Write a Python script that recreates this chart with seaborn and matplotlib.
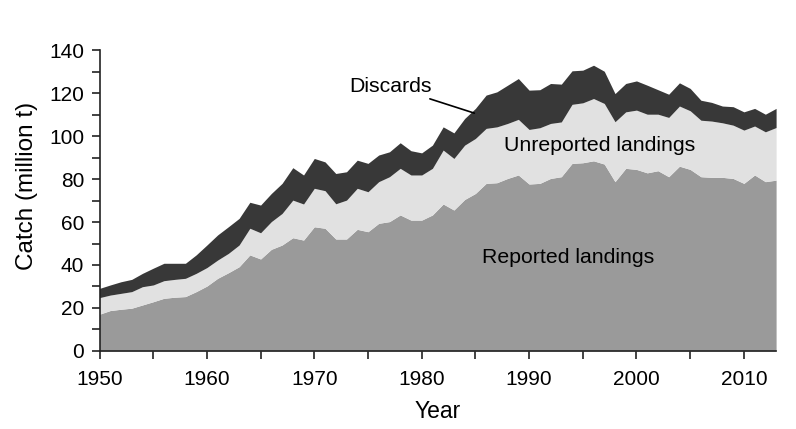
import numpy as np
import pandas as pd
import matplotlib
matplotlib.use("Agg")
import matplotlib.pyplot as plt
import seaborn as sns

years = list(range(1950, 2014))

reported = [17.1, 18.8, 19.4, 19.9, 21.4, 22.9, 24.5, 25.0, 25.3, 27.6,
            30.2, 33.8, 36.4, 39.2, 44.7, 42.8, 47.3, 49.3, 52.7, 51.6,
            57.8, 57.1, 52.1, 52.1, 56.6, 55.5, 59.4, 60.2, 63.3, 60.9,
            60.9, 63.3, 68.4, 65.6, 70.5, 73.3, 78.0, 78.3, 80.3, 81.9,
            77.7, 78.0, 80.3, 81.1, 87.3, 87.6, 88.5, 87.0, 78.8, 85.0,
            84.5, 82.9, 83.9, 81.1, 86.0, 84.5, 81.1, 80.8, 80.8, 80.3,
            78.0, 81.9, 78.8, 79.5]

unreported = [7.7, 7.2, 7.4, 7.7, 8.5, 7.8, 8.2, 8.3, 8.5, 8.5,
              8.6, 8.5, 9.0, 10.1, 12.4, 12.2, 12.9, 14.7, 17.5, 16.8,
              17.9, 17.5, 16.4, 18.1, 19.1, 18.6, 19.4, 20.9, 21.7, 21.0,
              21.0, 21.7, 25.1, 24.0, 25.3, 25.6, 25.6, 26.0, 25.6, 25.9,
              25.4, 25.9, 25.6, 25.5, 27.5, 27.9, 29.0, 28.2, 27.9, 26.3,
              27.6, 27.3, 26.3, 27.6, 28.0, 27.3, 26.3, 26.2, 25.4, 24.8,
              24.8, 22.8, 23.2, 24.5]

discards = [4.3, 4.7, 5.4, 5.7, 6.2, 7.8, 8.1, 7.5, 7.0, 8.6,
            10.5, 11.7, 12.4, 12.4, 12.1, 12.9, 13.1, 14.0, 15.1, 13.5,
            13.9, 13.4, 14.1, 13.2, 13.1, 13.2, 12.4, 11.6, 11.9, 11.3,
            10.3, 10.8, 10.8, 11.9, 12.4, 14.0, 15.5, 16.3, 17.8, 19.0,
            18.3, 17.7, 18.6, 17.6, 15.6, 15.2, 15.5, 15.0, 13.1, 13.2,
            13.6, 13.5, 11.4, 10.8, 10.8, 10.4, 9.3, 8.7, 7.8, 8.6,
            8.5, 8.2, 8.2, 8.9]

df = pd.DataFrame({"year": years, "reported": reported,
                   "unreported": unreported, "discards": discards})

sns.set_style("ticks")
plt.rcParams["font.family"] = ["Liberation Sans", "DejaVu Sans"]
plt.rcParams["text.color"] = "black"
plt.rcParams["axes.labelcolor"] = "black"
plt.rcParams["xtick.color"] = "black"
plt.rcParams["ytick.color"] = "black"

fig = plt.figure(figsize=(7.96, 4.29), dpi=100)
ax = fig.add_axes([0.125, 0.182, 0.85, 0.701])

ax.stackplot(df["year"], df["reported"], df["unreported"], df["discards"],
             colors=["#9a9a9a", "#e1e1e1", "#383838"], linewidth=0)

ax.set_xlim(1950, 2013)
ax.set_ylim(0, 140)
ax.set_xticks(range(1950, 2011, 10))
ax.set_xticks(range(1955, 2011, 10), minor=True)
ax.set_yticks(range(0, 141, 20))
ax.set_yticks(range(10, 140, 20), minor=True)
ax.tick_params(which="both", direction="out", length=6, width=1.2, color="#222222")
ax.tick_params(axis="x", labelsize=15, pad=8)
ax.tick_params(axis="y", labelsize=15, pad=5)
for s in ["left", "bottom"]:
    ax.spines[s].set_linewidth(1.2)
    ax.spines[s].set_color("#222222")
sns.despine(ax=ax)

ax.set_xlabel("Year", fontsize=16.5, labelpad=8)
ax.set_ylabel("Catch (million t)", fontsize=17.5)
ax.yaxis.set_label_coords(-0.091, 0.55)

ax.text(1993.6, 43.3, "Reported landings", fontsize=15.3, ha="center", va="center")
ax.text(1996.6, 95.8, "Unreported landings", fontsize=15.3, ha="center", va="center")
ax.annotate("Discards", xy=(1984.9, 110.7), xytext=(1980.9, 123.3),
            fontsize=15.3, ha="right", va="center",
            arrowprops=dict(arrowstyle="-", color="black", lw=1.2,
                            shrinkA=0, shrinkB=0))

fig.savefig("out.png", dpi=100)
